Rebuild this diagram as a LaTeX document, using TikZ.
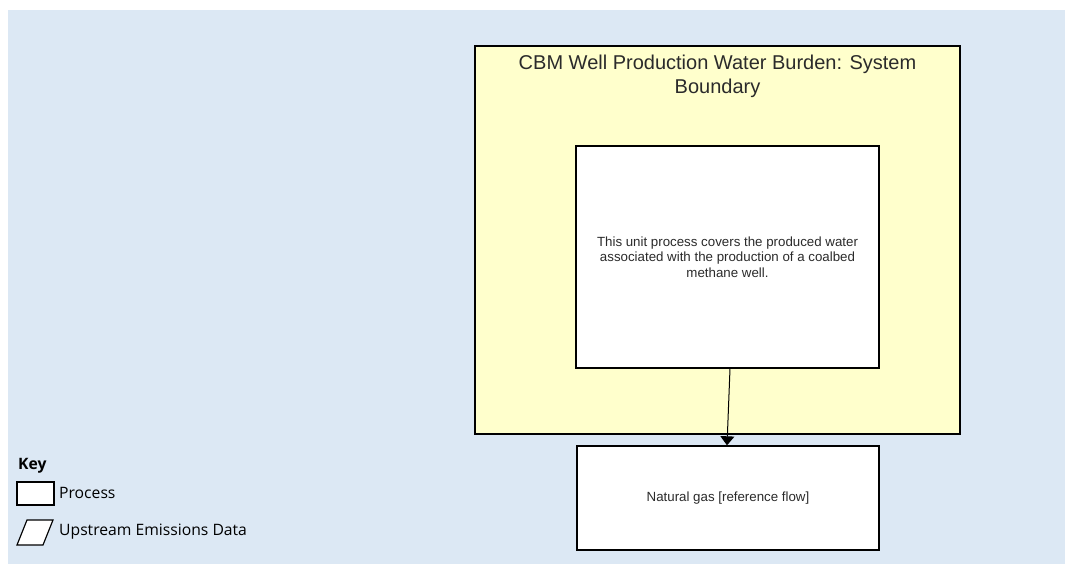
\documentclass[tikz,border=0pt]{standalone}
\usepackage{fontspec}
\setmainfont{Liberation Sans}
\newfontfamily\keyfont{Open Sans}
\usetikzlibrary{arrows.meta}
\definecolor{canvasblue}{HTML}{DCE8F4}
\definecolor{boundyellow}{HTML}{FFFFCC}
\definecolor{txtgray}{HTML}{2B2B2B}
\begin{document}
\begin{tikzpicture}[x=1pt,y=-1pt,
	procbox/.style={draw, line width=1.4pt, fill=white, inner sep=0pt, text=txtgray, align=center, font=\fontsize{13.3}{15.5}\selectfont},
	keytext/.style={anchor=west, inner sep=0pt, font=\keyfont\fontsize{15.7}{18}\selectfont}]
	\useasboundingbox (0,0) rectangle (1065,564);
	\fill [canvasblue] (8,10) rectangle (1065,564);
	
	\node (bound) at (717.5,240) [draw, line width=1.4pt, fill=boundyellow, minimum width=485, minimum height=388] {};
	\node (title) at (717.5,76) [align=center, text=txtgray, font=\fontsize{20}{24}\selectfont] {CBM Well Production Water Burden: System\\Boundary};
	
	\node (unit) at (727.5,257) [procbox, minimum width=303, minimum height=222] {This unit process covers the produced water\\associated with the production of a coalbed\\methane well.};
	\node (gas) at (728,498) [procbox, minimum width=302, minimum height=104] {Natural gas [reference flow]};
	
	\draw [-{Triangle[width=14pt,length=9pt]}, line width=1pt] ([xshift=2.5pt]unit.south) -- ([xshift=-1pt]gas.north);
	
	% key
	\node (key) at (18,466) [keytext, font=\keyfont\bfseries\fontsize{15.7}{18}\selectfont] {Key};
	\node (keyproc) at (35.5,493.5) [draw, line width=1.2pt, fill=white, minimum width=37, minimum height=23, inner sep=0pt] {};
	\draw [line width=1.2pt, fill=white] (17,545) -- (27,520) -- (53,520) -- (43,545) -- cycle;
	\node (keyproclbl) at (59,493) [keytext] {Process};
	\node (keydatalbl) at (59,532) [keytext] {Upstream Emissions Data};
\end{tikzpicture}
\end{document}
